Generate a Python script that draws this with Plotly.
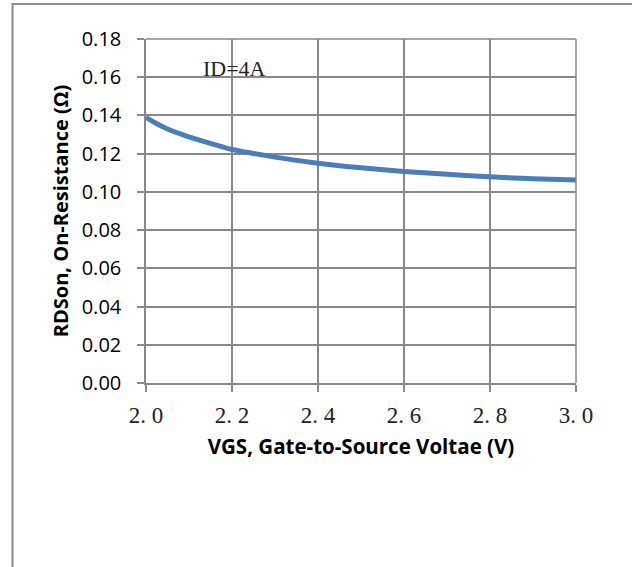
import plotly.graph_objects as go

vgs = [2.00, 2.02, 2.04, 2.06, 2.08, 2.10, 2.13, 2.17, 2.20, 2.25, 2.30, 2.35, 2.40,
       2.45, 2.50, 2.60, 2.70, 2.80, 2.90, 3.00]
rdson = [0.1390, 0.1363, 0.1340, 0.1320, 0.1303, 0.1288, 0.1267, 0.1241, 0.1222, 0.1201,
         0.1182, 0.1165, 0.1150, 0.1137, 0.1126, 0.1107, 0.1092, 0.1079, 0.1069, 0.1062]

x_ticks = [2.0, 2.2, 2.4, 2.6, 2.8, 3.0]
x_ticktext = ["2. 0", "2. 2", "2. 4", "2. 6", "2. 8", "3. 0"]
y_ticks = [0.00, 0.02, 0.04, 0.06, 0.08, 0.10, 0.12, 0.14, 0.16, 0.18]
y_ticktext = ["0.00", "0.02", "0.04", "0.06", "0.08", "0.10", "0.12", "0.14", "0.16", "0.18"]

grid = "#888888"
sans = "Open Sans"
serif = "Liberation Serif"

fig = go.Figure()
fig.add_trace(go.Scatter(x=vgs, y=rdson, mode="lines",
                         line=dict(color="#4A7EBB", width=5, shape="spline", smoothing=1.0),
                         showlegend=False, hoverinfo="skip"))

fig.update_layout(
    width=632, height=567,
    margin=dict(l=146, r=56, t=39, b=184),
    paper_bgcolor="white", plot_bgcolor="white",
    xaxis=dict(range=[2.0, 3.0], tickvals=x_ticks, ticktext=x_ticktext,
               showgrid=True, gridcolor=grid, gridwidth=1.5,
               showline=True, linecolor=grid, linewidth=1.5, mirror=False,
               ticks="outside", ticklen=7, tickcolor=grid, tickwidth=1.5,
               tickfont=dict(family=serif, size=23, color="#222"),
               ticklabelstandoff=4,
               title=dict(text="<b>VGS, Gate-to-Source Voltae (V)</b>",
                          font=dict(family=sans, size=20.5, color="black"), standoff=12),
               zeroline=False, fixedrange=True),
    yaxis=dict(range=[0, 0.18], tickvals=y_ticks, ticktext=y_ticktext,
               showgrid=True, gridcolor=grid, gridwidth=1.5,
               showline=True, linecolor=grid, linewidth=1.5,
               ticks="outside", ticklen=7, tickcolor=grid, tickwidth=1.5,
               tickfont=dict(family=sans, size=20, color="black"),
               ticklabelstandoff=12,
               title=dict(text="<b>RDSon, On-Resistance (Ω)</b>",
                          font=dict(family=sans, size=20, color="black"), standoff=8),
               zeroline=False, fixedrange=True),
    shapes=[
        dict(type="line", xref="paper", yref="paper", x0=1, x1=1, y0=0, y1=1,
             line=dict(color=grid, width=1.5)),
        dict(type="line", xref="paper", yref="paper", x0=0, x1=1, y0=1, y1=1,
             line=dict(color=grid, width=1.5)),
        dict(type="rect", xref="paper", yref="paper",
             x0=(12.5 - 146) / 430, x1=(645 - 146) / 430,
             y0=(383 - 590) / 344, y1=(383 - 4) / 344,
             line=dict(color="#8C8C8C", width=2), fillcolor="rgba(0,0,0,0)", layer="below"),
    ],
    annotations=[
        dict(x=2.205, y=0.1645, xref="x", yref="y", text="ID=4A", showarrow=False,
             font=dict(family=serif, size=22, color="#222")),
    ],
)

fig.write_html("out.html")
